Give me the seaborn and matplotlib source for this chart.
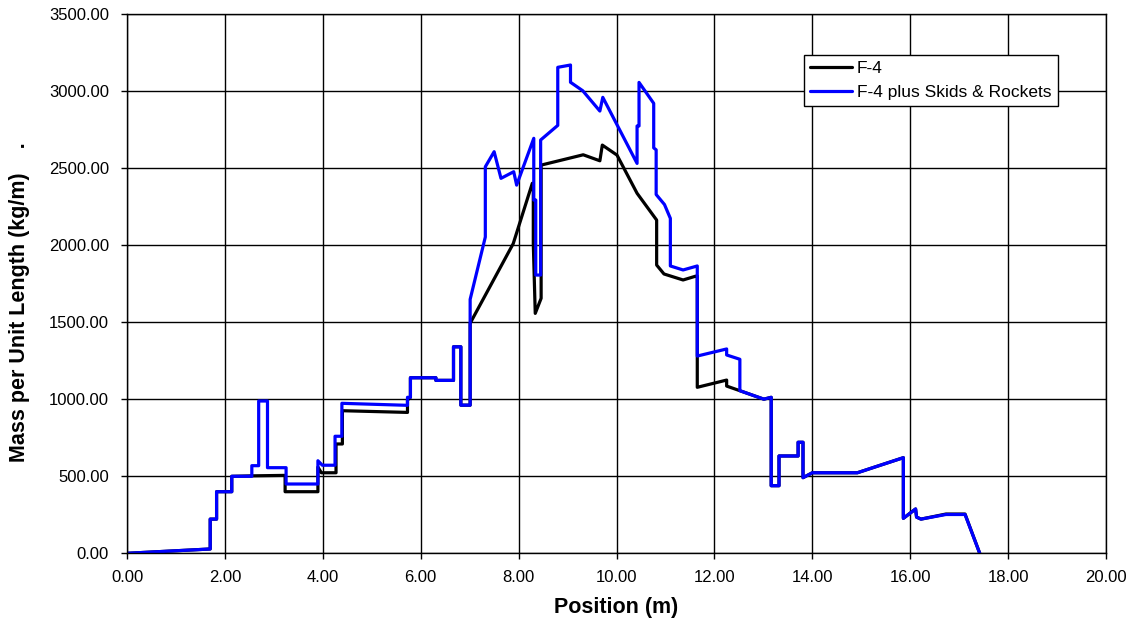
import matplotlib
matplotlib.use("Agg")
import matplotlib.pyplot as plt
import seaborn as sns
import pandas as pd

# Mass distribution along the airframe, F-4 alone
f4_pos = [0.00, 1.70, 1.70, 1.83, 1.83, 2.14, 2.14, 2.55, 3.23, 3.23, 3.90, 3.90,
          3.97, 4.27, 4.27, 4.40, 4.40, 5.73, 5.73, 5.79, 5.79, 6.31, 6.31, 6.67,
          6.67, 6.82, 6.82, 7.01, 7.01, 7.89, 8.28, 8.30, 8.30, 8.34, 8.46, 8.46,
          9.32, 9.66, 9.71, 10.01, 10.42, 10.82, 10.82, 10.97, 11.36, 11.62, 11.65,
          11.65, 12.25, 12.25, 12.52, 13.01, 13.16, 13.16, 13.32, 13.32, 13.71,
          13.71, 13.81, 13.81, 14.00, 14.92, 15.86, 15.86, 16.11, 16.13, 16.22,
          16.73, 17.12, 17.42]
f4_mass = [0, 28, 222, 222, 400, 400, 500, 503, 506, 400, 400, 560,
           523, 523, 710, 710, 926, 915, 995, 1013, 1140, 1140, 1123, 1123,
           1341, 1341, 962, 962, 1494, 2011, 2403, 2403, 2011, 1558, 1656, 2521,
           2588, 2549, 2651, 2586, 2338, 2164, 1872, 1814, 1775, 1800, 1800,
           1078, 1125, 1086, 1056, 1001, 1013, 439, 439, 632, 632,
           721, 721, 491, 523, 523, 621, 227, 288, 235, 222,
           255, 255, 0]

# Mass distribution with skids and rockets fitted
sr_pos = [0.00, 1.70, 1.70, 1.83, 1.83, 2.14, 2.14, 2.55, 2.55, 2.69, 2.69, 2.87,
          2.87, 3.25, 3.25, 3.90, 3.90, 3.99, 4.25, 4.25, 4.39, 4.39, 5.73, 5.73,
          5.79, 5.79, 6.31, 6.31, 6.67, 6.67, 6.82, 6.82, 7.01, 7.01, 7.32, 7.32,
          7.50, 7.64, 7.90, 7.96, 8.31, 8.31, 8.35, 8.35, 8.45, 8.45, 8.80, 8.80,
          9.06, 9.06, 9.31, 9.66, 9.72, 10.42, 10.42, 10.46, 10.46, 10.76, 10.76,
          10.81, 10.81, 10.98, 11.10, 11.10, 11.36, 11.65, 11.65, 12.25, 12.25,
          12.52, 12.52, 13.01, 13.16, 13.16, 13.32, 13.32, 13.71, 13.71, 13.81,
          13.81, 14.00, 14.92, 15.86, 15.86, 16.11, 16.13, 16.22, 16.73, 17.12,
          17.42]
sr_mass = [0, 28, 222, 222, 400, 400, 500, 500, 569, 569, 989, 989,
           556, 556, 450, 450, 601, 572, 572, 760, 760, 974, 961, 1013,
           1013, 1140, 1140, 1123, 1123, 1341, 1341, 962, 962, 1649, 2054, 2510,
           2608, 2435, 2478, 2391, 2695, 2294, 2294, 1807, 1807, 2684, 2779, 3156,
           3171, 3059, 3004, 2872, 2961, 2532, 2775, 2775, 3058, 2922, 2633,
           2620, 2330, 2265, 2175, 1866, 1840, 1866, 1281, 1327, 1288,
           1260, 1056, 1001, 1013, 439, 439, 632, 632, 721, 721,
           491, 523, 523, 621, 227, 288, 235, 222, 252, 252,
           0]

series_names = ["F-4", "F-4 plus Skids & Rockets"]
series_colors = ["#000000", "#0000FF"]

x_ticks = [0, 2, 4, 6, 8, 10, 12, 14, 16, 18, 20]
y_ticks = [0, 500, 1000, 1500, 2000, 2500, 3000, 3500]

df = pd.concat([
    pd.DataFrame({"Position": f4_pos, "Mass": f4_mass, "Series": series_names[0]}),
    pd.DataFrame({"Position": sr_pos, "Mass": sr_mass, "Series": series_names[1]}),
], ignore_index=True)

sns.set_style("white")
plt.rcParams["font.family"] = ["Liberation Sans", "DejaVu Sans"]
plt.rcParams["text.color"] = "black"
plt.rcParams["axes.labelcolor"] = "black"
plt.rcParams["xtick.color"] = "black"
plt.rcParams["ytick.color"] = "black"

fig = plt.figure(figsize=(11.36, 6.24), dpi=100)
ax = fig.add_axes([0.1118, 0.1133, 0.8618, 0.8637])

sns.lineplot(data=df, x="Position", y="Mass", hue="Series",
             estimator=None, sort=False, palette=dict(zip(series_names, series_colors)),
             linewidth=2.3, ax=ax, legend=True)

ax.set_xlim(0, 20)
ax.set_ylim(0, 3500)
ax.set_xticks(x_ticks)
ax.set_yticks(y_ticks)
ax.set_xticklabels([f"{v:.2f}" for v in x_ticks])
ax.set_yticklabels([f"{v:.2f}" for v in y_ticks])
ax.grid(True, color="black", linewidth=1.0)
ax.set_axisbelow(True)
for s in ax.spines.values():
    s.set_color("black")
    s.set_linewidth(1.0)
ax.tick_params(axis="both", which="major", direction="out", length=4, width=1,
               color="black", labelcolor="black", labelsize=12, left=True, bottom=True)
ax.tick_params(axis="y", pad=9)
ax.tick_params(axis="x", pad=8)

ax.set_xlabel("Position (m)", fontsize=15.5, fontweight="bold", labelpad=9)
ax.set_ylabel("Mass per Unit Length (kg/m)    .", fontsize=15.5, fontweight="bold")
ax.yaxis.set_label_coords(-0.099, 0.466)

handles, labels = ax.get_legend_handles_labels()
leg = ax.legend(handles, labels, loc="upper left", bbox_to_anchor=(0.6915, 0.9245),
                frameon=True, fancybox=False, edgecolor="black", framealpha=1,
                fontsize=12.5, handlelength=2.4, handletextpad=0.3, borderpad=0.35,
                labelspacing=0.5, borderaxespad=0)
leg.get_frame().set_linewidth(1.0)
for line in leg.get_lines():
    line.set_linewidth(2.3)

fig.savefig("out.png", dpi=100)
